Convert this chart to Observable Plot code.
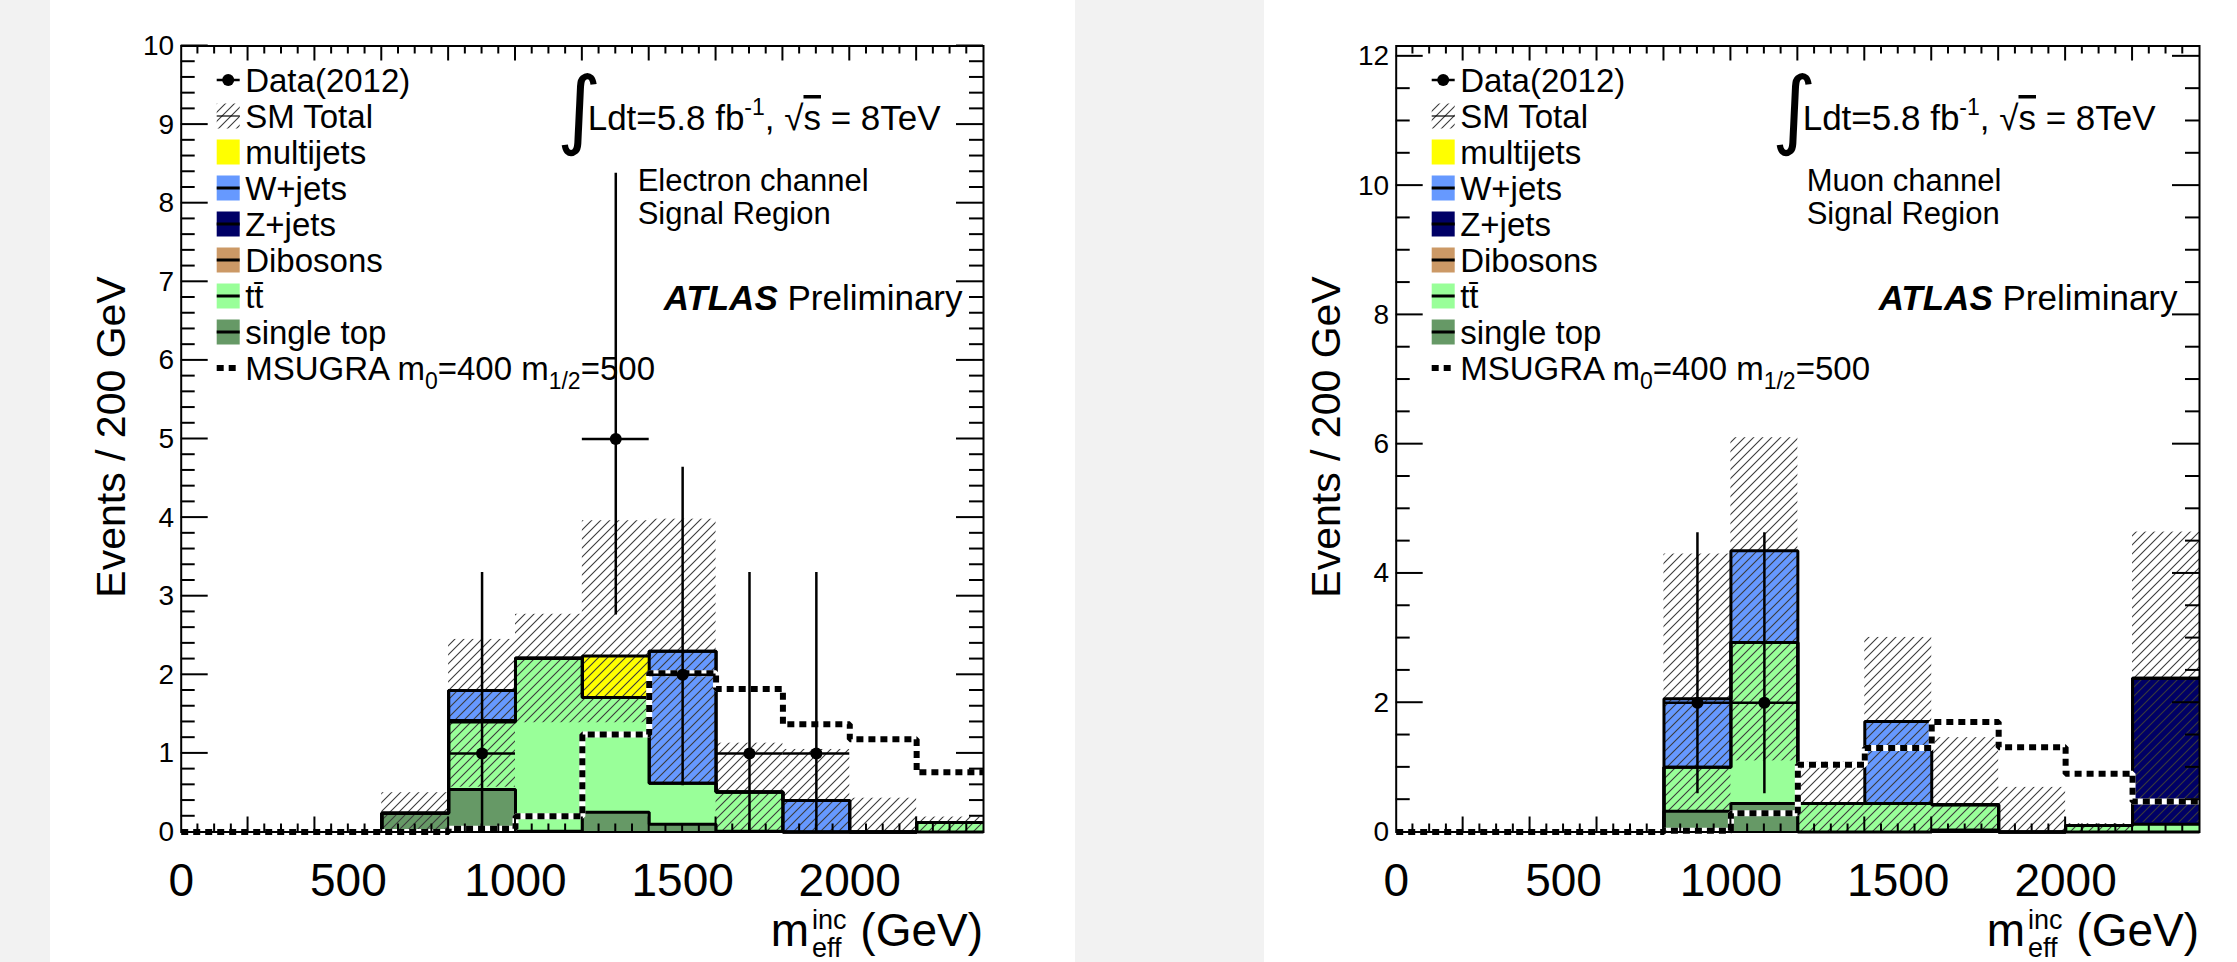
<!DOCTYPE html>
<html><head><meta charset="utf-8">
<script src="https://cdn.jsdelivr.net/npm/d3@7"></script>
<script src="https://cdn.jsdelivr.net/npm/@observablehq/plot@0.6"></script>
<style>
html,body{margin:0;padding:0;background:#f2f2f2;width:2237px;height:962px;overflow:hidden;font-family:"Liberation Sans",Arial,Helvetica,sans-serif;}
.panel{position:absolute;top:0;height:962px;background:#fff;}
#pe{left:50px;width:1025px;}
#pm{left:1264px;width:973px;}
</style></head><body>
<svg width="0" height="0" style="position:absolute"><defs>
<pattern id="hatch" patternUnits="userSpaceOnUse" width="9" height="9"><path d="M-1,1 l2,-2 M0,9 l9,-9 M8,10 l2,-2" stroke="#3a3a3a" stroke-width="1.1" fill="none"/></pattern>
</defs></svg>
<div id="pe" class="panel"></div><div id="pm" class="panel"></div>
<script>
// ---------- shared binning / labels ----------
const binLow = [0, 200, 400, 600, 800, 1000, 1200, 1400, 1600, 1800, 2000, 2200];
const binWidth = 200;
const xMax = 2400;
const xTickLabels = [0, 500, 1000, 1500, 2000];
const legendLabels = ["Data(2012)", "SM Total", "multijets", "W+jets", "Z+jets", "Dibosons", "tt\u0304", "single top"];

// ---------- Electron channel (events / 200 GeV per process) ----------
const eSingleTop = [0, 0, 0, 0.24, 0.54, 0.01, 0.25, 0.10, 0.01, 0, 0, 0];
const eTtbar     = [0, 0, 0, 0, 0.86, 2.20, 1.46, 0.52, 0.50, 0, 0, 0.12];
const eDibosons  = [0, 0, 0, 0, 0.02, 0, 0, 0, 0, 0, 0, 0];
const eZjets     = [0, 0, 0, 0, 0, 0, 0, 0, 0, 0, 0, 0];
const eWjets     = [0, 0, 0, 0, 0.38, 0, 0, 1.68, 0, 0.40, 0, 0];
const eMultijets = [0, 0, 0, 0, 0, 0, 0.53, 0, 0, 0, 0, 0];
const eBandLo    = [0, 0, 0, 0, 0.57, 1.39, 1.39, 0.63, 0, 0, 0, 0];
const eBandHi    = [0, 0, 0, 0.50, 2.45, 2.77, 3.96, 3.98, 1.13, 1.05, 0.43, 0.19];
const eSignal    = [0, 0, 0, 0, 0.04, 0.20, 1.24, 2.02, 1.82, 1.37, 1.18, 0.76];
const eDataX = [900, 1300, 1500, 1700, 1900];
const eDataY = [1, 5, 2, 1, 1];
const eErrLo = [1, 2.24, 1.41, 1, 1];
const eErrHi = [2.30, 3.38, 2.64, 2.30, 2.30];
const eYLabels = [0, 1, 2, 3, 4, 5, 6, 7, 8, 9, 10];

// ---------- Muon channel ----------
const mSingleTop = [0, 0, 0, 0, 0.32, 0.44, 0, 0, 0.03, 0, 0, 0];
const mTtbar     = [0, 0, 0, 0, 0.68, 2.49, 0.44, 0.44, 0.39, 0, 0.10, 0.12];
const mDibosons  = [0, 0, 0, 0, 0, 0, 0, 0, 0, 0, 0, 0];
const mZjets     = [0, 0, 0, 0, 0, 0, 0, 0, 0, 0, 0, 2.26];
const mWjets     = [0, 0, 0, 0, 1.06, 1.42, 0, 1.27, 0, 0, 0, 0];
const mMultijets = [0, 0, 0, 0, 0, 0, 0, 0, 0, 0, 0, 0];
const mBandLo    = [0, 0, 0, 0, 0.33, 1.10, 0, 0, 0, 0, 0, 0.15];
const mBandHi    = [0, 0, 0, 0, 4.30, 6.10, 1.08, 3.01, 1.46, 0.69, 0.13, 4.64];
const mSignal    = [0, 0, 0, 0, 0.02, 0.29, 1.04, 1.30, 1.70, 1.31, 0.90, 0.47];
const mDataX = [900, 1100];
const mDataY = [2, 2];
const mErrLo = [1.41, 1.41];
const mErrHi = [2.63, 2.63];
const mYLabels = [0, 2, 4, 6, 8, 10, 12];

const COL = {singleTop: "#669966", ttbar: "#99ff99", dibosons: "#cc9966", zjets: "#000066", wjets: "#6699ff", multijets: "#ffff00"};
const FONT = '"Liberation Sans", Arial, Helvetica, sans-serif';

function drawPanel(host, cfg) {
  const H = 962, fTop = 45.5, fBot = 831.5;
  const procs = [
    {v: cfg.singleTop, color: COL.singleTop},
    {v: cfg.ttbar, color: COL.ttbar},
    {v: cfg.dibosons, color: COL.dibosons},
    {v: cfg.zjets, color: COL.zjets},
    {v: cfg.wjets, color: COL.wjets},
    {v: cfg.multijets, color: COL.multijets}
  ];
  let acc = binLow.map(() => 0);
  for (const p of procs) { acc = acc.map((a, i) => a + p.v[i]); p.cum = acc; }
  const step = vals => binLow.map((x, i) => ({x, y: vals[i]})).concat([{x: xMax, y: vals[vals.length - 1]}]);
  const shown = procs.filter(p => !p.v.every(d => d === 0));
  const marks = [];
  for (const p of shown.slice().reverse()) {
    marks.push(Plot.areaY(step(p.cum), {x: "x", y: "y", curve: "step-after", fill: p.color, shapeRendering: "crispEdges"}));
  }
  const band = binLow.map((x, i) => ({x1: x, x2: x + binWidth, lo: cfg.bandLo[i], hi: cfg.bandHi[i]})).filter(d => d.hi > d.lo);
  marks.push(Plot.rect(band, {x1: "x1", x2: "x2", y1: "lo", y2: "hi", fill: "url(#hatch)"}));
  for (const p of shown.slice().reverse()) {
    marks.push(Plot.line(step(p.cum), {x: "x", y: "y", curve: "step-after", stroke: "black", strokeWidth: 3, strokeLinejoin: "miter", strokeLinecap: "butt"}));
  }
  const sig = step(cfg.signal);
  marks.push(Plot.line(sig, {x: "x", y: "y", curve: "step-after", stroke: "white", strokeWidth: 6, strokeLinejoin: "miter", strokeLinecap: "butt"}));
  marks.push(Plot.line(sig, {x: "x", y: "y", curve: "step-after", stroke: "black", strokeWidth: 6, strokeDasharray: "7,5", strokeLinejoin: "miter", strokeLinecap: "butt"}));
  const data = cfg.dataX.map((x, i) => ({x, y: cfg.dataY[i], lo: cfg.dataY[i] - cfg.errLo[i], hi: cfg.dataY[i] + cfg.errHi[i], xl: x - binWidth / 2, xh: x + binWidth / 2}));
  marks.push(Plot.ruleX(data, {x: "x", y1: "lo", y2: "hi", stroke: "black", strokeWidth: 2.5}));
  marks.push(Plot.ruleY(data, {y: "y", x1: "xl", x2: "xh", stroke: "black", strokeWidth: 2.5}));
  marks.push(Plot.dot(data, {x: "x", y: "y", r: 6, fill: "black"}));
  marks.push(Plot.axisX({ticks: xTickLabels, tickSize: 0, tickPadding: 31, fontSize: 46, tickFormat: d => String(d), label: null}));
  marks.push(Plot.axisY({ticks: cfg.yLabels, tickSize: 0, tickPadding: 7, fontSize: 28, tickFormat: d => String(d), label: null}));
  marks.push(Plot.frame({stroke: "black", strokeWidth: 2}));

  const plot = Plot.plot({
    width: cfg.width, height: H,
    marginLeft: cfg.marginLeft, marginRight: cfg.marginRight, marginTop: fTop, marginBottom: H - fBot,
    x: {domain: [0, xMax]}, y: {domain: [0, cfg.yMax]},
    style: {background: "transparent", fontFamily: FONT, color: "black", overflow: "visible"},
    marks
  });
  host.appendChild(plot);

  const svg = d3.select(plot);
  const sx = plot.scale("x"), sy = plot.scale("y");
  const fl = sx.apply(0), fr = sx.apply(xMax), ft = sy.apply(cfg.yMax), fb = sy.apply(0);

  // inward ticks on all four sides
  const tg = svg.append("g").attr("stroke", "black").attr("stroke-width", 2).attr("fill", "none");
  const nY = Math.floor(cfg.yMax / cfg.yMinor + 1e-9);
  for (let k = 1; k <= nY; k++) {
    const v = k * cfg.yMinor;
    const major = Math.abs(v / cfg.yMajor - Math.round(v / cfg.yMajor)) < 1e-6;
    const len = major ? 27 : 14, y = sy.apply(v);
    tg.append("line").attr("x1", fl).attr("x2", fl + len).attr("y1", y).attr("y2", y);
    tg.append("line").attr("x1", fr).attr("x2", fr - len).attr("y1", y).attr("y2", y);
  }
  for (let v = 50; v < xMax; v += 50) {
    const len = v % 200 === 0 ? 15 : 8, x = sx.apply(v);
    tg.append("line").attr("x1", x).attr("x2", x).attr("y1", fb).attr("y2", fb - len);
    tg.append("line").attr("x1", x).attr("x2", x).attr("y1", ft).attr("y2", ft + len);
  }

  const tx = svg.append("g").attr("font-family", FONT).attr("fill", "black").attr("text-anchor", "start");
  // axis titles
  tx.append("text").attr("transform", `translate(${fl - 56},437) rotate(-90)`).attr("text-anchor", "middle").attr("font-size", 41).text("Events / 200 GeV");
  tx.append("text").attr("x", fr).attr("y", 946).attr("text-anchor", "end").attr("font-size", 46).text("(GeV)");
  tx.append("text").attr("x", fr - 174).attr("y", 946).attr("text-anchor", "end").attr("font-size", 46).text("m");
  tx.append("text").attr("x", fr - 171).attr("y", 929).attr("font-size", 27).text("inc");
  tx.append("text").attr("x", fr - 171).attr("y", 957).attr("font-size", 27).text("eff");

  // legend
  const bx = fl + 36, bw = 23, bh = 25, textX = fl + 64.5;
  const lg = svg.append("g").attr("font-family", FONT).attr("text-anchor", "start");
  const rowY = i => 80 + 36 * i;
  const boxColors = [null, null, COL.multijets, COL.wjets, COL.zjets, COL.dibosons, COL.ttbar, COL.singleTop];
  legendLabels.forEach((lab, i) => {
    const cy = rowY(i);
    if (i === 0) {
      lg.append("line").attr("x1", bx).attr("x2", bx + bw).attr("y1", cy).attr("y2", cy).attr("stroke", "black").attr("stroke-width", 2.5);
      lg.append("circle").attr("cx", bx + bw / 2).attr("cy", cy).attr("r", 6).attr("fill", "black");
    } else if (i === 1) {
      lg.append("rect").attr("x", bx).attr("y", cy - bh / 2).attr("width", bw).attr("height", bh).attr("fill", "url(#hatch)");
      lg.append("line").attr("x1", bx).attr("x2", bx + bw).attr("y1", cy).attr("y2", cy).attr("stroke", "black").attr("stroke-width", 1.2);
    } else {
      lg.append("rect").attr("x", bx).attr("y", cy - bh / 2).attr("width", bw).attr("height", bh).attr("fill", boxColors[i]);
      if (i >= 3) lg.append("line").attr("x1", bx).attr("x2", bx + bw).attr("y1", cy).attr("y2", cy).attr("stroke", "black").attr("stroke-width", 3);
    }
    lg.append("text").attr("x", textX).attr("y", cy + 12).attr("font-size", 33).text(lab);
  });
  {
    const cy = rowY(8);
    lg.append("line").attr("x1", bx).attr("x2", bx + bw).attr("y1", cy).attr("y2", cy).attr("stroke", "white").attr("stroke-width", 6);
    lg.append("line").attr("x1", bx).attr("x2", bx + bw).attr("y1", cy).attr("y2", cy).attr("stroke", "black").attr("stroke-width", 6).attr("stroke-dasharray", "7,5");
    const t = lg.append("text").attr("x", textX).attr("y", cy + 12).attr("font-size", 33);
    t.append("tspan").text("MSUGRA m");
    t.append("tspan").attr("font-size", 23).attr("dy", 9).text("0");
    t.append("tspan").attr("dy", -9).text("=400 m");
    t.append("tspan").attr("font-size", 23).attr("dy", 9).text("1/2");
    t.append("tspan").attr("dy", -9).text("=500");
  }

  // luminosity label
  tx.append("text").attr("x", fl + 376).attr("y", 138).attr("font-family", '"DejaVu Sans"').attr("font-size", 86).text("\u222B");
  const lum = tx.append("text").attr("x", fl + 407).attr("y", 130).attr("font-size", 35);
  lum.append("tspan").text("Ldt=5.8 fb");
  lum.append("tspan").attr("font-size", 23).attr("dy", -15).text("-1");
  lum.append("tspan").attr("dy", 15).text(", \u221A");
  lum.append("tspan").style("text-decoration", "overline").text("s");
  lum.append("tspan").text(" = 8TeV");

  tx.append("text").attr("x", fl + cfg.chanX).attr("y", 191).attr("font-size", 31).text(cfg.channel);
  tx.append("text").attr("x", fl + cfg.chanX).attr("y", 224).attr("font-size", 31).text("Signal Region");

  const at = tx.append("text").attr("x", fl + 483).attr("y", 310).attr("font-size", 35);
  at.append("tspan").attr("font-weight", "bold").attr("font-style", "italic").text("ATLAS");
  at.append("tspan").text(" Preliminary");
}

drawPanel(document.getElementById("pe"), {
  width: 1025, marginLeft: 130.7, marginRight: 92, yMax: 10, yMajor: 1, yMinor: 0.2, yLabels: eYLabels,
  singleTop: eSingleTop, ttbar: eTtbar, dibosons: eDibosons, zjets: eZjets, wjets: eWjets, multijets: eMultijets,
  bandLo: eBandLo, bandHi: eBandHi, signal: eSignal,
  dataX: eDataX, dataY: eDataY, errLo: eErrLo, errHi: eErrHi,
  channel: "Electron channel", chanX: 457
});
drawPanel(document.getElementById("pm"), {
  width: 973, marginLeft: 131.7, marginRight: 38, yMax: 12.16, yMajor: 2, yMinor: 0.5, yLabels: mYLabels,
  singleTop: mSingleTop, ttbar: mTtbar, dibosons: mDibosons, zjets: mZjets, wjets: mWjets, multijets: mMultijets,
  bandLo: mBandLo, bandHi: mBandHi, signal: mSignal,
  dataX: mDataX, dataY: mDataY, errLo: mErrLo, errHi: mErrHi,
  channel: "Muon channel", chanX: 411
});
</script>
</body></html>
